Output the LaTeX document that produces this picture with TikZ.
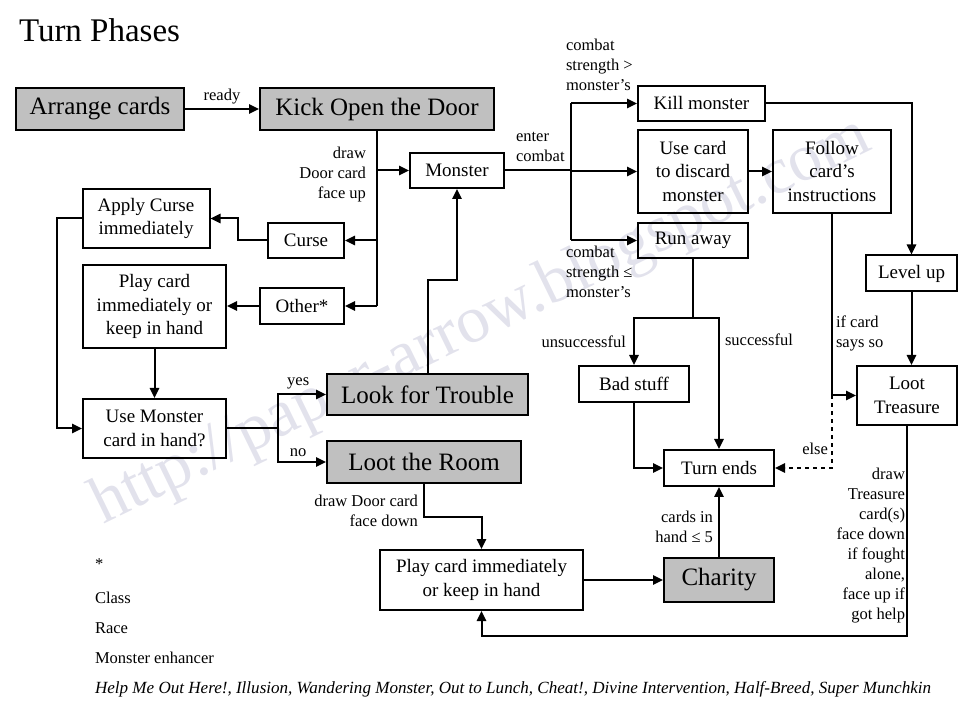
\documentclass[tikz,border=0pt]{standalone}
\usepackage{fontspec}
\setmainfont{Liberation Serif}
\usetikzlibrary{arrows.meta}
\definecolor{boxgray}{RGB}{192,192,192}
\definecolor{wmark}{RGB}{226,226,236}
\newcommand{\smallfont}{\fontsize{12.4}{15}\selectfont}
\newcommand{\midfont}{\fontsize{14.25}{17.6}\selectfont}
\newcommand{\bigfont}{\fontsize{18.75}{22}\selectfont}
\begin{document}
\begin{tikzpicture}[x=0.75pt,y=-0.75pt,line width=1.5pt,
    >={Triangle[length=7.5pt,width=7pt]},
    phase/.style={draw,fill=boxgray,font=\bigfont,inner sep=0pt,align=center},
    act/.style={draw,font=\midfont,inner sep=0pt,align=center},
    lbl/.style={font=\smallfont,inner sep=0pt},
    note/.style={font=\fontsize{12.4}{15}\selectfont,inner sep=0pt,anchor=west}]
\useasboundingbox (0,0) rectangle (978,712);
% 水印
\node[wmark,font=\fontsize{50}{50}\selectfont,rotate=26] (wm) at (482,322) {http://paper-arrow.blogspot.com};

\node[anchor=west,inner sep=0pt,font=\fontsize{24.75}{28}\selectfont] (title) at (18,30) {Turn Phases};

% 方框
\node[phase,minimum width=126pt,minimum height=31.5pt] (arrange) at (100,109) {Arrange cards};
\node[phase,minimum width=175.5pt,minimum height=31.5pt] (kick) at (377,109) {Kick Open the Door};
\node[act,minimum width=70.5pt,minimum height=26.25pt] (monster) at (457,170.5) {Monster};
\node[act,minimum width=57pt,minimum height=26.25pt] (curse) at (306,240.5) {Curse};
\node[act,minimum width=95.25pt,minimum height=44.25pt] (apply) at (146,218.5) {Apply Curse\\immediately};
\node[act,minimum width=63pt,minimum height=27pt] (other) at (302,306) {Other*};
\node[act,minimum width=107.25pt,minimum height=62.25pt] (playcard) at (154.5,306.5) {Play card\\immediately or\\keep in hand};
\node[act,minimum width=107.25pt,minimum height=44.25pt] (usemonster) at (154.5,428.5) {Use Monster\\card in hand?};
\node[phase,minimum width=150.75pt,minimum height=31pt] (trouble) at (427.5,394.5) {Look for Trouble};
\node[phase,minimum width=145.5pt,minimum height=31pt] (lootroom) at (424,462) {Loot the Room};
\node[act,minimum width=95.25pt,minimum height=26.25pt] (kill) at (701.5,103.5) {Kill monster};
\node[act,minimum width=82.5pt,minimum height=62.25pt] (usecard) at (693,171.5) {Use card\\to discard\\monster};
\node[act,minimum width=88.5pt,minimum height=62.25pt] (follow) at (832,171.5) {Follow\\card’s\\instructions};
\node[act,minimum width=82.5pt,minimum height=26.25pt] (runaway) at (693,240.5) {Run away};
\node[act,minimum width=68.25pt,minimum height=27pt] (levelup) at (911.5,273.5) {Level up};
\node[act,minimum width=75pt,minimum height=44.25pt] (treasure) at (907,395.5) {Loot\\Treasure};
\node[act,minimum width=82.5pt,minimum height=27pt] (badstuff) at (634,384) {Bad stuff};
\node[act,minimum width=82.5pt,minimum height=27pt] (turnends) at (719,468) {Turn ends};
\node[phase,minimum width=82.5pt,minimum height=33pt] (charity) at (719,580) {Charity};
\node[act,minimum width=152.25pt,minimum height=45pt] (playbottom) at (481.5,580) {Play card immediately\\or keep in hand};

% 连线
\draw[->] (arrange) -- (kick) node[lbl,midway,above=3pt] {ready};
\draw (kick.south) -- (kick.south |- other.east);
\draw[->] (kick.south |- monster.west) -- (monster.west);
\draw[->] (kick.south |- curse.east) -- (curse.east);
\draw[->] (kick.south |- other.east) -- (other.east);
\node[lbl,align=right,anchor=east] (drawup) at (367,175) {draw\\Door card\\face up};
\draw[->] (curse.west) -- ++(-29,0) |- (apply.east);
\draw[->] (other.west) -- (playcard.east |- other.west);
\draw[->] (playcard.south) -- (usemonster.north);
\draw[->] (apply.west) -- ++(-25,0) |- (usemonster.west);
\draw (usemonster.east) -- ++(51,0) coordinate (yesno);
\draw[->] (yesno) |- (trouble.west) node[lbl,pos=0.71,above=3pt] {yes};
\draw[->] (yesno) |- (lootroom.west) node[lbl,pos=0.71,above=3pt] {no};
\draw[->] (trouble.north) -- ++(0,-93) -| (monster.south);

\coordinate (fight) at (571,171);
\draw (monster.east) -- (fight |- monster.east);
\draw (fight |- kill.west) -- (fight |- runaway.west);
\draw[->] (fight |- kill.west) -- (kill.west);
\draw[->] (fight |- usecard.west) -- (usecard.west);
\draw[->] (fight |- runaway.west) -- (runaway.west);
\node[lbl,align=left,anchor=west] (enter) at (515,147) {enter\\combat};
\node[lbl,align=left,anchor=west] (win) at (565,65) {combat\\strength >\\monster’s};
\node[lbl,align=left,anchor=west] (lose) at (565,272) {combat\\strength ≤\\monster’s};
\draw[->] (usecard.east) -- (follow.west);
\draw[->] (kill.east) -| (levelup.north);
\draw[->] (levelup.south) -- (levelup.south |- treasure.north);
\draw (follow.south) -- (follow.south |- treasure.west) coordinate (says);
\draw[->] (says) -- (treasure.west);
\node[lbl,align=left,anchor=west] (ifcard) at (835,333) {if card\\says so};
\draw[->,dashed] (says) |- (turnends.east);
\node[lbl,anchor=east] (else) at (829,449) {else};

\draw (runaway.south) -- (runaway.south |- 0,318) coordinate (flee);
\draw[->] (flee) -| (badstuff.north);
\draw[->] (flee) -| (turnends.north);
\node[lbl,anchor=east] (unsucc) at (627,342) {unsuccessful};
\node[lbl,anchor=west] (succ) at (724,340) {successful};
\draw[->] (badstuff.south) |- (turnends.west);
\draw[->] (charity.north) -- (turnends.south);
\node[lbl,align=right,anchor=east] (hand) at (714,527) {cards in\\hand ≤ 5};

\draw[->] (lootroom.south) -- ++(0,33) -| (playbottom.north);
\node[lbl,align=right,anchor=east] (drawdown) at (419,511) {draw Door card\\face down};
\draw[->] (playbottom.east) -- (charity.west);
\draw[->] (treasure.south) -- ++(0,210) -| (playbottom.south);
\node[lbl,align=right,anchor=east] (drawtr) at (906,546) {draw\\Treasure\\card(s)\\face down\\if fought\\alone,\\face up if\\got help};

% 注
\node[note] (star) at (94,564) {*};
\node[note] (class) at (94,598) {Class};
\node[note] (race) at (94,628) {Race};
\node[note] (enh) at (94,658) {Monster enhancer};
\node[note,font=\fontsize{12.8}{15}\selectfont\itshape] (others) at (94,689) {Help Me Out Here!, Illusion, Wandering Monster, Out to Lunch, Cheat!, Divine Intervention, Half-Breed, Super Munchkin};
\end{tikzpicture}
\end{document}
